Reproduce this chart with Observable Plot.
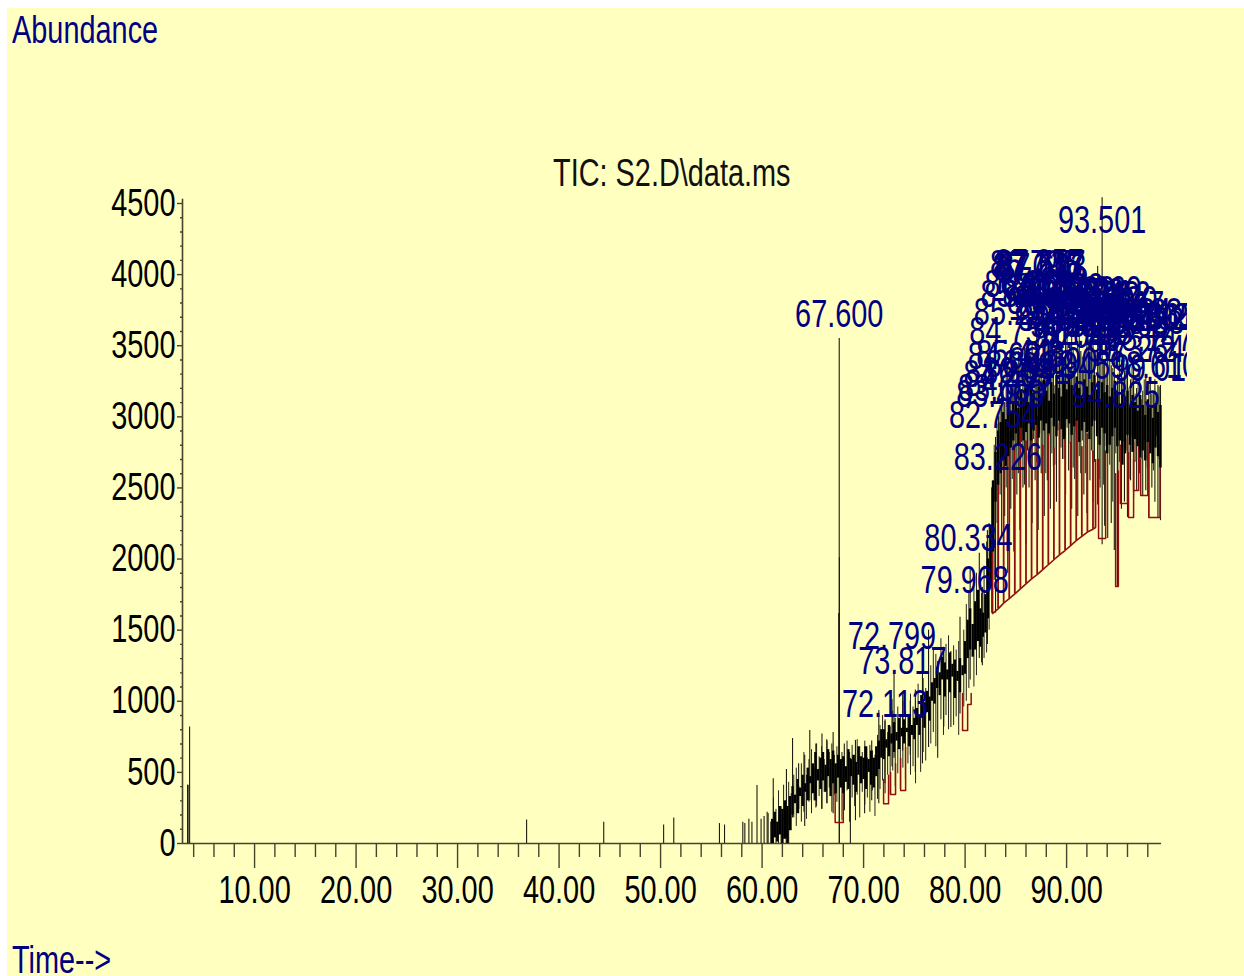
<!DOCTYPE html>
<html><head><meta charset="utf-8">
<script src="https://cdn.jsdelivr.net/npm/d3@7"></script>
<script src="https://cdn.jsdelivr.net/npm/@observablehq/plot@0.6"></script>
<style>
html,body{margin:0;padding:0;background:#fff;overflow:hidden;width:1244px;height:976px}
#page{position:absolute;left:7px;top:8px;width:1237px;height:968px;background:#FFFFC0;overflow:hidden}
#chart{position:absolute;left:0;top:0}
#chart svg{background:transparent;overflow:hidden;display:block}
.cap{position:absolute;font-family:"Liberation Sans",sans-serif;font-size:38px;line-height:38px;white-space:pre;transform:scaleX(.76);transform-origin:left center}
</style></head><body>
<div id="page">
<div id="chart"></div>
<div class="cap" style="left:5px;top:3px;color:#000080">Abundance</div>
<div class="cap" style="left:546px;top:146px;color:#101010">TIC: S2.D\data.ms</div>
<div class="cap" style="left:5px;top:933px;color:#000080">Time--&gt;</div>
</div>
<script>
const majorXTicks=[10,20,30,40,50,60,70,80,90];
const minorXTicks=[4,6,8,12,14,16,18,22,24,26,28,32,34,36,38,42,44,46,48,52,54,56,58,62,64,66,68,72,74,76,78,82,84,86,88,92,94,96,98];
const majorYTicks=[0,500,1000,1500,2000,2500,3000,3500,4000,4500];
const minorYTicks=[100,200,300,400,600,700,800,900,1100,1200,1300,1400,1600,1700,1800,1900,2100,2200,2300,2400,2600,2700,2800,2900,3100,3200,3300,3400,3600,3700,3800,3900,4100,4200,4300,4400];

// Dense body of the trace: time, lower and upper edge of the noise band
const coreTime=[61,61.25,61.5,61.75,62,62.25,62.5,62.75,63,63.25,63.5,63.75,64,64.25,64.5,64.75,65,65.25,65.5,65.75,66,66.25,66.5,66.75,67,67.25,67.5,67.75,68,68.25,68.5,68.75,69,69.25,69.5,69.75,70,70.25,70.5,70.75,71,71.25,71.5,71.75,72,72.25,72.5,72.75,73,73.25,73.5,73.75,74,74.25,74.5,74.75,75,75.25,75.5,75.75,76,76.25,76.5,76.75,77,77.25,77.5,77.75,78,78.25,78.5,78.75,79,79.25,79.5,79.75,80,80.25,80.5,80.75,81,81.25,81.5,81.75,82,82.25,82.5,82.75,83,83.25,83.5,83.75,84,84.25,84.5,84.75,85,85.25,85.5,85.75,86,86.25,86.5,86.75,87,87.25,87.5,87.75,88,88.25,88.5,88.75,89,89.25,89.5,89.75,90,90.25,90.5,90.75,91,91.25,91.5,91.75,92,92.25,92.5,92.75,93,93.25,93.5,93.75,94,94.25,94.5,94.75,95,95.25,95.5,95.75,96,96.25,96.5,96.75,97,97.25,97.5,97.75,98,98.25,98.5,98.75,99,99.25];
const coreLow=[0,40,10,60,0,30,0,90,200,280,210,330,260,360,300,420,350,300,440,380,440,360,470,330,420,350,460,390,350,430,380,470,410,360,480,420,450,380,500,410,390,470,520,600,590,670,610,700,640,720,660,750,700,780,680,760,730,830,760,880,810,920,860,1000,980,1090,1040,1150,1030,1150,1060,1170,1020,1140,1060,1180,1190,1300,1360,1310,1360,1420,1380,1450,1480,1580,1800,2050,2400,2520,2600,2700,2650,2720,2780,2830,2880,2800,2920,2830,2890,2950,2830,2900,2940,2850,2970,2900,2950,2880,2990,2930,2860,2970,2910,2840,2980,2950,2870,2930,2970,2820,2900,2960,2890,2840,2930,2970,2860,2800,2920,2880,2740,2800,2860,2920,2790,2830,2660,2740,2870,2800,2750,2840,2790,2710,2760,2690,2820,2740,2670,2780,2720,2640,2700,2750,2620,2680];
const coreHigh=[170,220,150,260,240,300,260,330,400,340,450,390,480,420,530,470,560,640,520,600,640,550,660,590,650,560,620,590,610,540,660,590,620,570,680,610,600,680,590,650,600,680,720,800,800,730,830,770,850,780,880,810,870,810,900,830,880,950,900,1040,990,1070,1030,1130,1160,1240,1200,1310,1270,1220,1340,1260,1290,1210,1300,1250,1420,1570,1650,1540,1700,1780,1650,1620,1750,2000,2230,2550,2750,2900,2960,3030,2980,3070,3040,3100,3140,3060,3190,3130,3200,3100,3230,3160,3090,3210,3150,3260,3180,3110,3240,3160,3290,3200,3140,3250,3190,3300,3220,3160,3280,3200,3130,3260,3210,3150,3240,3290,3190,3120,3240,3170,3220,3140,3200,3250,3160,3090,3190,3130,3180,3070,3150,3100,3040,3150,3080,3010,3120,3060,2990,3090,3030,3080,2970,3050,3100,2990];

// Thin noise strokes between the dense ones
const noiseTime=[60.6,60.85,61.12,61.37,61.62,61.87,62.12,62.37,62.62,62.87,63.12,63.37,63.62,63.87,64.12,64.37,64.62,64.87,65.12,65.37,65.62,65.87,66.12,66.37,66.62,66.87,67.12,67.37,67.87,68.12,68.37,68.62,68.87,69.12,69.37,69.62,69.87,70.12,70.37,70.62,70.87,71.12,71.37,71.62,71.87,72.12,72.37,72.62,72.87,73.12,73.37,73.62,73.87,74.12,74.37,74.62,74.87,75.12,75.37,75.62,75.87,76.12,76.62,76.87,77.12,77.62,77.87,78.12,78.37,78.87,79.12,79.37,79.87,80.12,80.37,80.87,81.12,81.62,81.87,82.12,82.37,82.62,82.87,83.15,83.45,83.75,84.05,84.35,84.65,84.95,85.25,85.55,85.85,86.15,86.45,86.75,87.05,87.35,87.65,87.95,88.25,88.55,88.85,89.15,89.45,89.75,90.05,90.35,90.65,90.95,91.25,91.55,91.85,92.15,92.45,92.75,93.2,93.65,93.9,94.25,94.55,94.85,95.2,95.55,95.85,96.15,96.45,96.75,97.05,97.35,97.65,97.95,98.25,98.55,98.85,99.12];
const noiseLow=[0,0,0,0,0,0,30,0,0,90,180,120,240,150,220,170,290,210,300,260,330,240,360,280,390,220,340,290,160,230,370,150,320,260,340,180,360,270,320,220,370,190,310,380,440,350,480,340,510,400,490,380,530,450,560,480,540,420,600,500,640,580,700,780,680,870,760,900,800,830,890,760,960,1000,1090,1100,1180,1270,1300,1340,1500,1620,1850,2250,2450,2620,2500,2720,2560,2780,2600,2820,2520,2760,2640,2840,2680,2880,2720,2600,2860,2740,2660,2900,2780,2700,2920,2810,2640,2890,2720,2830,2600,2900,2760,2680,2560,2520,2790,2660,2400,2740,2680,2820,2760,2560,2860,2680,2800,2700,2840,2640,2780,2620,2860,2700];
const noiseHigh=[210,150,320,240,370,260,410,300,430,350,480,530,400,560,640,480,590,660,530,700,610,680,590,730,640,700,620,680,640,600,720,640,690,620,730,680,640,720,600,690,650,620,760,830,900,870,780,820,930,880,960,900,1000,930,890,1050,960,1000,1120,1040,1160,1090,1250,1370,1330,1440,1380,1400,1460,1390,1360,1420,1500,1680,1760,1810,1900,1760,1950,2120,2250,2500,2800,2950,3080,3200,3340,3120,3420,3250,3460,3190,3500,3320,3430,3180,3560,3370,3250,3600,3320,3480,3220,3560,3400,3290,3610,3350,3480,3270,3580,3420,3310,3540,3600,3440,3470,3380,3290,3520,3340,3190,3450,3280,3370,3200,3350,3160,3290,3120,3260,3090,3240,3180,3140,3210];

// Individual spikes standing out of the band
const spikeTime=[3.6,3.4,3.45,36.8,44.4,50.3,51.3,55.8,56.3,58.1,58.3,58.7,59,59.5,59.9,60.2,60.5,61.1,62.4,63,63.6,64.2,64.7,65.3,65.9,66.4,67,67.6,67.62,67.55,68.1,68.7,69.2,70.1,70.8,71.5,72.1,72.8,73,73.85,74.6,75.1,75.8,76.4,77.3,77.9,78.6,79.5,80.5,81.4,81.7,82.2,83,83.3,83.6,83.9,84.2,84.5,84.8,85.1,85.4,85.7,86,86.3,86.6,86.9,87.2,87.5,87.8,88.1,88.4,88.7,89,89.3,89.6,89.9,90.2,90.5,90.8,91.1,91.4,91.7,92,92.3,92.6,93.06,93.3,93.501,93.75,94.05,94.4,94.7,95,95.05,95.4,95.7,96,96.3,96.6,96.9,97.2,97.5,97.8,98.1,98.4,98.7,99,99.25];
const spikeLow=[0,0,0,0,0,0,0,0,0,0,0,0,0,0,0,0,0,0,40,180,210,120,300,250,240,280,210,0,0,500,300,0,160,210,300,280,420,540,600,650,620,500,560,675,600,820,815,910,1150,1300,1250,1400,1620,1900,2150,2300,1900,2350,2050,2450,2200,2500,2100,2500,2250,2550,2200,2600,2300,2550,2350,2650,2400,2500,2700,2450,2620,2350,2560,2300,2600,2450,2320,2550,2400,2380,2500,2100,2230,2145,2250,2060,1807,1820,2350,2400,2293,2550,2430,2482,2600,2447,2480,2293,2500,2400,2293,2270];
const spikeHigh=[820,410,410,165,150,130,180,140,130,150,140,170,150,408,170,190,220,455,520,738,560,620,795,700,770,720,780,3550,2010,1617,700,600,725,680,720,935,860,1010,1215,1050,1000,1080,1215,1500,1280,1360,1350,1590,1940,2040,1800,2200,2855,3000,3250,3100,3380,3200,3420,3300,3450,3280,3480,3350,3520,3300,3540,3380,3600,3400,3540,3360,3600,3440,3380,3620,3420,3580,3350,3530,3460,3390,3560,3480,3700,4057,3500,4540,3400,3450,3360,3520,3250,3300,3400,3320,3380,3260,3340,3200,3300,3180,3280,3230,3160,3260,3220,3220];

// Integration baselines (brown-red)
const baseTime=[82.7,83.25,83.8,84.35,84.9,85.45,86,86.55,87.1,87.65,88.2,88.75,89.3,89.85,90.4,90.95,91.5,92.05,92.6,92.85];
const baseValue=[1617,1650,1690,1722,1755,1790,1825,1860,1890,1925,1960,1995,2030,2060,2095,2130,2160,2190,2210,2222];
const baseTop=[2500,2780,2860,2900,2780,2950,2830,2880,3000,2800,2920,2780,2950,2860,2820,2990,2790,2880,2760,2700];
const pocketGroup=["a","a","a","a","b","b","b","b","c","c","c","c","d","d","d","d","e","e","e","e","e","e","f","f","f","f","g","g","g","g","h","h","h","h","i","i","i","i","j","j","j","j","k","k","k","k","l","l","l","l"];
const pocketTime=[67.2,67.2,68,68,71.97,71.97,72.46,72.46,72.66,72.66,73.15,73.15,73.65,73.65,74.14,74.14,79.75,79.75,80.25,80.25,80.6,80.6,93.15,93.15,93.85,93.85,94.83,94.83,95.1,95.1,95.3,95.3,96,96,96.1,96.1,96.6,96.6,96.6,96.6,97.1,97.1,97.3,97.3,98,98,98.1,98.1,99.2,99.2];
const pocketValue=[400,148,148,440,450,280,280,480,500,345,345,560,600,372,372,675,1055,795,795,978,978,1055,2700,2145,2145,2760,2600,1807,1807,2620,2800,2390,2390,2850,2750,2293,2293,2820,2700,2482,2482,2800,2700,2447,2447,2860,2750,2293,2293,2800];

// Peak labels: retention time and height of the peak it sits over
const peakLabel=["67.600","72.113","72.799","73.817","79.968","80.334","82.754","83.226","93.501","94.825","83.468","83.655","84.203","84.377","84.601","84.756","85.214","85.448","85.873","86.041","86.266","86.402","86.795","87.045","87.238","87.357","87.517","87.603","87.812","88.002","88.231","88.476","88.690","88.902","89.116","89.302","89.530","89.730","89.945","90.164","90.382","90.611","90.826","91.045","91.273","91.498","91.712","91.934","92.156","92.380","92.614","92.842","93.060","93.278","93.730","93.952","94.174","94.620","95.048","95.267","95.703","95.934","96.372","96.590","97.033","97.264","97.702","98.147","98.365","98.610","98.836","99.012"];
const peakTime=peakLabel.map(Number);
const peakApex=[3550,807,1287,1111,1680,1975,2840,2545,4210,2982,2985,3030,3130,3060,3250,3430,3560,3270,3690,3150,3760,3200,3900,3880,3900,3905,3900,3880,3780,3690,3730,3640,3220,3700,3600,3740,3520,3700,3180,3560,3720,3480,3650,3400,3700,3560,3420,3690,3420,3640,3500,3680,3720,3520,3600,3680,3480,3650,3540,3610,3480,3560,3300,3520,3560,3300,3530,3380,3530,3190,3500,3170];

const core=coreTime.map((t,i)=>({t,lo:coreLow[i],hi:coreHigh[i]}));
const noise=noiseTime.map((t,i)=>({t,lo:noiseLow[i],hi:noiseHigh[i]}));
const spikes=spikeTime.map((t,i)=>({t,lo:spikeLow[i],hi:spikeHigh[i]}));
const bases=baseTime.map((t,i)=>({t,v:baseValue[i],top:baseTop[i]}));
const pockets=pocketTime.map((t,i)=>({t,v:pocketValue[i],g:pocketGroup[i]}));
const peaks=peakLabel.map((label,i)=>({label,t:peakTime[i],apex:peakApex[i]}));

const font='"Liberation Sans",sans-serif';
const axisColor="#45452e", red="#8f0f0f", navy="#000080";
const plot=Plot.plot({
  width:1180,height:968,
  marginLeft:175,marginRight:26,marginTop:195,marginBottom:133,
  style:{fontFamily:font,fontSize:"38px",color:"#000",background:"transparent"},
  x:{domain:[2.9,99.35],label:null},
  y:{domain:[0,4500],label:null},
  marks:[
    Plot.axisX({ticks:majorXTicks,tickSize:25,tickPadding:8,tickFormat:d3.format(".2f"),stroke:axisColor,color:"#000",label:null,fontSize:38,strokeWidth:1.4}),
    Plot.axisX({ticks:minorXTicks,tickSize:14,tickFormat:()=>"",stroke:axisColor,label:null,strokeWidth:1.4}),
    Plot.axisY({ticks:majorYTicks,tickSize:5,tickPadding:2,stroke:axisColor,color:"#000",label:null,fontSize:38,tickFormat:d=>String(d),strokeWidth:1.4}),
    Plot.axisY({ticks:minorYTicks,tickSize:2,tickFormat:()=>"",stroke:axisColor,label:null,strokeWidth:1.4}),
    Plot.ruleY([0],{stroke:axisColor,strokeWidth:1.6}),
    Plot.ruleX([2.9],{y1:0,y2:4530,stroke:axisColor,strokeWidth:1.6}),
    Plot.ruleX(noise,{x:"t",y1:"lo",y2:"hi",stroke:"#23231a",strokeWidth:1}),
    Plot.ruleX(spikes,{x:"t",y1:"lo",y2:"hi",stroke:"#1c1c10",strokeWidth:1.1}),
    Plot.ruleX(bases,{x:"t",y1:"v",y2:"top",stroke:red,strokeWidth:1.8}),
    Plot.line(bases,{x:"t",y:"v",stroke:red,strokeWidth:1.6}),
    Plot.line(pockets,{x:"t",y:"v",z:"g",stroke:red,strokeWidth:1.5}),
    Plot.ruleX(core,{x:"t",y1:"lo",y2:"hi",stroke:"#000",strokeWidth:2.4}),
    Plot.text(peaks,{x:"t",y:"apex",text:"label",dy:-24,fill:navy,fontSize:38,fontFamily:font,lineAnchor:"middle",textAnchor:"middle"})
  ]
});
document.getElementById("chart").appendChild(plot);
// The original lettering is condensed: fit each real text to 76% of its natural width.
plot.querySelectorAll("text").forEach(t=>{
  const n=t.getComputedTextLength();
  if(n>0){t.setAttribute("textLength",(n*0.76).toFixed(1));t.setAttribute("lengthAdjust","spacingAndGlyphs");}
});
</script>
</body></html>
